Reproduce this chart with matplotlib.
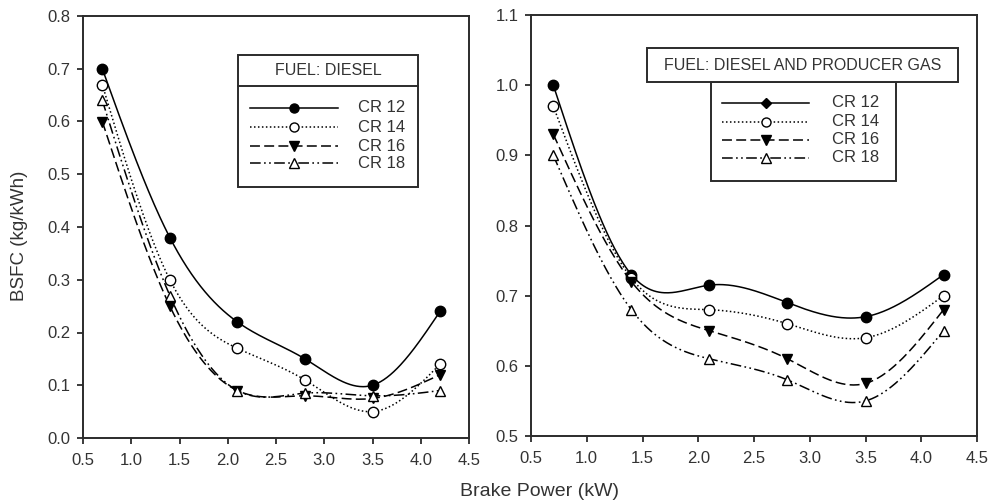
import numpy as np
import matplotlib
matplotlib.use("Agg")
import matplotlib.pyplot as plt
from matplotlib.lines import Line2D
from matplotlib.patches import Rectangle

plt.rcParams['font.family'] = ['Liberation Sans', 'DejaVu Sans']

# data
power = [0.7, 1.4, 2.1, 2.8, 3.5, 4.2]
labels = ["CR 12", "CR 14", "CR 16", "CR 18"]

diesel_cr12 = [0.70, 0.38, 0.22, 0.15, 0.10, 0.24]
diesel_cr14 = [0.67, 0.30, 0.17, 0.11, 0.05, 0.14]
diesel_cr16 = [0.60, 0.25, 0.09, 0.08, 0.075, 0.12]
diesel_cr18 = [0.64, 0.27, 0.09, 0.085, 0.08, 0.09]

dual_cr12 = [1.00, 0.73, 0.715, 0.69, 0.67, 0.73]
dual_cr14 = [0.97, 0.725, 0.68, 0.66, 0.64, 0.70]
dual_cr16 = [0.93, 0.72, 0.65, 0.61, 0.575, 0.68]
dual_cr18 = [0.90, 0.68, 0.61, 0.58, 0.55, 0.65]

W, H = 990, 504
INK = '#2b2b2b'
TXT = '#333333'

styles = [
    dict(ls='-', marker='o', mfc='black'),
    dict(ls=(0, (1, 1.6)), marker='o', mfc='white'),
    dict(ls=(0, (6.5, 2.8)), marker='v', mfc='black'),
    dict(ls=(0, (7, 2.2, 1.1, 2.2, 1.1, 2.2)), marker='^', mfc='white'),
]


def natural_spline(x, y, n=300):
    # smooth curve through the points, like the original plotting tool
    x = np.asarray(x, float)
    y = np.asarray(y, float)
    k = len(x)
    h = np.diff(x)
    A = np.zeros((k, k))
    b = np.zeros(k)
    A[0, 0] = A[-1, -1] = 1
    for i in range(1, k - 1):
        A[i, i - 1] = h[i - 1]
        A[i, i] = 2 * (h[i - 1] + h[i])
        A[i, i + 1] = h[i]
        b[i] = 6 * ((y[i + 1] - y[i]) / h[i] - (y[i] - y[i - 1]) / h[i - 1])
    M = np.linalg.solve(A, b)
    xs = np.linspace(x[0], x[-1], n)
    idx = np.clip(np.searchsorted(x, xs) - 1, 0, k - 2)
    x0, x1 = x[idx], x[idx + 1]
    hh = x1 - x0
    t0, t1 = x1 - xs, xs - x0
    ys = (M[idx] * t0 ** 3 + M[idx + 1] * t1 ** 3) / (6 * hh) \
        + (y[idx] / hh - M[idx] * hh / 6) * t0 \
        + (y[idx + 1] / hh - M[idx + 1] * hh / 6) * t1
    return xs, ys


def px_box(x0, y0, x1, y1):
    return [x0 / W, 1 - y1 / H, (x1 - x0) / W, (y1 - y0) / H]


def draw_series(ax, series):
    for vals, st in zip(series, styles):
        xs, ys = natural_spline(power, vals)
        ax.plot(xs, ys, color='black', lw=1.1, ls=st['ls'])
        ax.plot(power, vals, ls='none', marker=st['marker'], ms=7.5,
                mfc=st['mfc'], mec='black', mew=1.0)


def style_axes(ax, ylim, yticks):
    ax.set_xlim(0.5, 4.5)
    ax.set_ylim(*ylim)
    ax.set_xticks(np.arange(0.5, 4.51, 0.5))
    ax.set_yticks(yticks)
    ax.xaxis.set_major_formatter(matplotlib.ticker.FormatStrFormatter('%.1f'))
    ax.yaxis.set_major_formatter(matplotlib.ticker.FormatStrFormatter('%.1f'))
    ax.tick_params(direction='out', length=4, width=1.3, colors=INK,
                   labelcolor=TXT, labelsize=12)
    ax.tick_params(axis='x', pad=7)
    ax.tick_params(axis='y', pad=5)
    for s in ax.spines.values():
        s.set_linewidth(1.4)
        s.set_color(INK)


def fx(x):
    return x / W


def fy(y):
    return 1 - y / H


def legend_entries(fig, x0, x1, xlab, ys, right=False):
    xm = (x0 + x1) / 2
    for i, (lab, st, y) in enumerate(zip(labels, styles, ys)):
        fig.add_artist(Line2D([fx(x0), fx(x1)], [fy(y), fy(y)], color='black',
                              lw=1.1, ls=st['ls'], transform=fig.transFigure))
        mk = 'D' if (right and i == 0) else st['marker']
        ms = 5 if mk == 'D' else 6.5
        fig.add_artist(Line2D([fx(xm)], [fy(y)], ls='none', marker=mk, ms=ms,
                              mfc=st['mfc'], mec='black', mew=1.0,
                              transform=fig.transFigure))
        fig.text(fx(xlab), fy(y), lab, ha='left', va='center', fontsize=12,
                 color=TXT)


def rect(fig, x0, y0, x1, y1):
    fig.add_artist(Rectangle((fx(x0), fy(y1)), fx(x1) - fx(x0), fy(y0) - fy(y1),
                             fill=True, facecolor='white', edgecolor=INK, lw=1.4,
                             transform=fig.transFigure))


def main():
    fig = plt.figure(figsize=(W / 100, H / 100), dpi=100)
    ax1 = fig.add_axes(px_box(83, 16, 469, 438))
    ax2 = fig.add_axes(px_box(531, 15, 977, 436))

    draw_series(ax1, [diesel_cr12, diesel_cr14, diesel_cr16, diesel_cr18])
    draw_series(ax2, [dual_cr12, dual_cr14, dual_cr16, dual_cr18])

    style_axes(ax1, (0.0, 0.8), np.arange(0, 0.81, 0.1))
    style_axes(ax2, (0.5, 1.1), np.arange(0.5, 1.11, 0.1))

    # left legend box with title row
    rect(fig, 238, 55, 418, 187)
    fig.add_artist(Line2D([fx(238), fx(418)], [fy(86), fy(86)], color=INK, lw=1.4,
                          transform=fig.transFigure))
    fig.text(fx(328), fy(70.5), "FUEL: DIESEL", ha='center', va='center',
             fontsize=11.5, color=TXT)
    legend_entries(fig, 250, 338, 358, [108, 127, 146, 163])

    # right legend: title box on top of entry box
    rect(fig, 711, 82, 896, 181)
    rect(fig, 647, 48, 958, 82)
    fig.text(fx(802.5), fy(65), "FUEL: DIESEL AND PRODUCER GAS", ha='center',
             va='center', fontsize=11.5, color=TXT)
    legend_entries(fig, 722, 809, 832, [103, 122, 140, 158], right=True)

    fig.text(fx(540), fy(491), "Brake Power (kW)", ha='center', va='center',
             fontsize=14, color=TXT)
    fig.text(fx(20), fy(236), "BSFC (kg/kWh)", ha='center', va='center',
             rotation=90, fontsize=13.5, color=TXT)

    fig.savefig("out.png", dpi=100, facecolor='white')
    plt.close(fig)


if __name__ == "__main__":
    main()
